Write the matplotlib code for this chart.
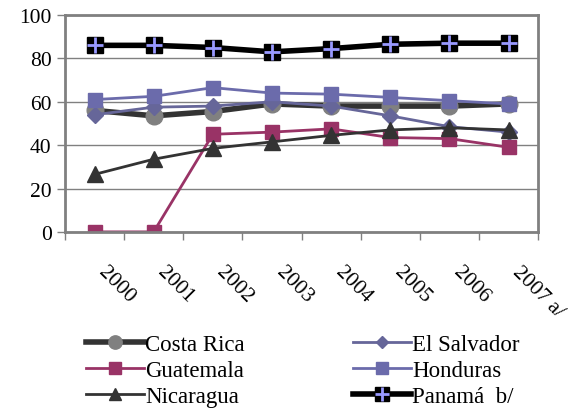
import matplotlib.pyplot as plt
import numpy as np
from matplotlib.legend_handler import HandlerTuple

plt.rcParams['font.family'] = 'serif'
plt.rcParams['font.serif'] = ['Liberation Serif', 'DejaVu Serif']

years = ['2000', '2001', '2002', '2003', '2004', '2005', '2006', '2007 a/']
costa_rica = [56, 53.5, 55.5, 59, 58, 58, 58, 59]
el_salvador = [54, 57.5, 58, 60, 58, 53.5, 48.5, 46]
guatemala = [0, 0, 45, 46, 47.5, 43.5, 43, 39]
honduras = [61, 62.5, 66.5, 64, 63.5, 62, 60.5, 59]
nicaragua = [26.5, 33.5, 38.5, 41.5, 44.5, 47, 48, 47]
panama = [86, 86, 85, 83, 84.5, 86.5, 87, 87]

x = np.arange(len(years)) + 0.5

fig = plt.figure(figsize=(5.85, 4.1), dpi=100)
ax = fig.add_axes([0.111, 0.432, 0.809, 0.529])

# series drawn in Excel order
cr, = ax.plot(x, costa_rica, color='#333333', lw=4, marker='o', ms=12,
              mfc='#808080', mec='#808080', label='Costa Rica')
es, = ax.plot(x, el_salvador, color='#666699', lw=2, marker='D', ms=8,
              mfc='#666699', mec='#666699', label='El Salvador')
gu, = ax.plot(x, guatemala, color='#993366', lw=2, marker='s', ms=10,
              mfc='#993366', mec='#993366', label='Guatemala')
ho, = ax.plot(x, honduras, color='#6b6bab', lw=2, marker='s', ms=10,
              mfc='#6b6bab', mec='#6b6bab', label='Honduras')
ni, = ax.plot(x, nicaragua, color='#333333', lw=2, marker='^', ms=11,
              mfc='#333333', mec='#333333', label='Nicaragua')
pa1, = ax.plot(x, panama, color='black', lw=4, marker='s', ms=12,
               mfc='black', mec='black')
pa2, = ax.plot(x, panama, ls='none', marker='+', ms=12, mew=2, color='#9999ff')

ax.set_xlim(0, 8)
ax.set_ylim(0, 100)
ax.set_yticks([0, 20, 40, 60, 80, 100])
ax.grid(axis='y', color='#808080', lw=1)
ax.set_axisbelow(True)
for s in ax.spines.values():
    s.set_color('#808080')
    s.set_linewidth(2)

ax.set_xticks(np.arange(0, 9))
ax.set_xticklabels([])
ax.set_xticks(x, minor=True)
ax.set_xticklabels(years, minor=True, rotation=-45, ha='left', va='top',
                   fontsize=15.5)
ax.tick_params(axis='x', which='minor', length=0, pad=22)
ax.tick_params(axis='x', which='major', length=6, color='#808080', width=1)
ax.tick_params(axis='y', length=6, color='#808080', width=1, labelsize=15.5)

handles = [cr, gu, ni, es, ho, (pa1, pa2)]
labels = ['Costa Rica', 'Guatemala', 'Nicaragua', 'El Salvador', 'Honduras', 'Panamá  b/']
fig.legend(handles, labels, ncol=2, loc='upper left', bbox_to_anchor=(0.127, 0.21),
           frameon=False, fontsize=16.5, handlelength=2.55, handletextpad=0.05,
           labelspacing=0.2, columnspacing=4.7, markerscale=0.8, borderpad=0,
           handler_map={tuple: HandlerTuple(ndivide=1)})

fig.savefig('out.png', dpi=100)
